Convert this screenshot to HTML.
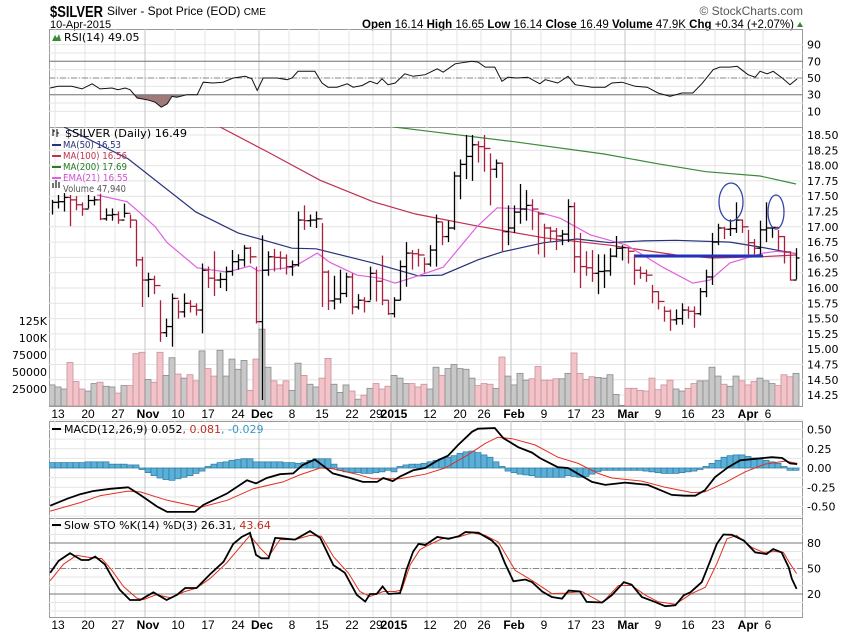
<!DOCTYPE html>
<html><head><meta charset="utf-8"><style>
body{margin:0;background:#fff;width:850px;height:633px;overflow:hidden}
svg{display:block;font-family:"DejaVu Sans","Liberation Sans",sans-serif}
</style></head><body>
<svg id="c" width="850" height="633" viewBox="0 0 850 633" xmlns="http://www.w3.org/2000/svg">
<text x="50" y="17" font-family="Liberation Sans" font-weight="bold" font-size="16" textLength="53" lengthAdjust="spacingAndGlyphs">$SILVER</text>
<text x="107" y="15" font-family="Liberation Sans" font-size="12">Silver - Spot Price (EOD) <tspan font-size="10">CME</tspan></text>
<text x="50" y="28" font-family="Liberation Sans" font-size="11">10-Apr-2015</text>
<text x="803" y="15" text-anchor="end" font-family="Liberation Sans" font-size="12" fill="#555">© StockCharts.com</text>
<text x="362" y="28" font-family="Liberation Sans" font-size="12" textLength="432" lengthAdjust="spacingAndGlyphs"><tspan font-weight="bold">Open</tspan> 16.14 <tspan font-weight="bold">High</tspan> 16.65 <tspan font-weight="bold">Low</tspan> 16.14 <tspan font-weight="bold">Close</tspan> 16.49 <tspan font-weight="bold">Volume</tspan> 47.9K <tspan font-weight="bold">Chg</tspan> +0.34 (+2.07%)</text>
<polygon points="797,27 803,27 800,22" fill="#2a8a2a"/>
<g id="g"></g>
</svg>
<script>
// ---------- data ----------
const dateLabels=["13","20","27","Nov","10","17","24","Dec","8","15","22","29","2015","12","20","26","Feb","9","17","23","Mar","9","16","23","Apr","6"];
const dateIdx=[1,6,11,16,21,26,31,35,40,45,50,54,57,63,68,72,77,82,87,91,96,101,106,111,116,119];
const closes=[17.40,17.41,17.48,17.44,17.36,17.29,17.43,17.44,17.13,17.19,17.20,17.11,17.22,17.11,16.46,16.13,16.14,16.04,15.27,15.37,15.83,15.61,15.75,15.70,15.64,16.29,16.16,16.13,16.14,16.27,16.43,16.46,16.65,16.51,15.45,16.29,16.51,16.50,16.49,16.35,16.38,17.11,17.10,17.11,17.13,16.26,15.79,15.82,15.91,16.18,15.69,15.80,15.78,16.24,16.11,15.80,15.58,15.80,16.35,16.57,16.56,16.54,
16.39,16.62,17.08,16.84,16.98,17.83,18.02,18.15,18.34,18.31,18.28,17.94,18.04,16.92,16.98,17.24,17.29,17.35,17.29,17.21,16.98,16.93,16.85,16.88,17.33,16.51,16.35,16.33,16.24,16.27,16.28,16.52,16.65,16.66,16.60,16.29,16.24,16.21,15.94,15.78,15.62,15.48,15.50,15.64,15.62,15.58,15.94,16.18,16.75,16.98,16.96,16.97,17.11,17.00,16.74,16.65,16.95,16.98,16.99,16.84,16.59,16.13,16.49];
const highs=[17.44,17.52,17.55,17.52,17.50,17.40,17.52,17.50,17.54,17.30,17.30,17.25,17.38,17.20,17.11,16.51,16.25,16.20,15.80,15.50,15.91,15.80,15.91,15.80,15.75,16.40,16.35,16.60,16.25,16.35,16.62,16.55,16.70,16.67,16.35,16.86,16.60,16.64,16.60,16.55,16.45,17.25,17.35,17.20,17.25,17.06,16.29,16.20,16.30,16.25,16.24,15.90,15.85,16.35,16.30,16.53,15.80,15.85,16.45,16.75,16.62,16.64,
16.50,16.70,17.20,17.08,17.10,17.90,18.10,18.50,18.50,18.40,18.50,18.20,18.10,18.05,17.35,17.35,17.70,17.60,17.45,17.25,17.05,17.00,16.98,16.95,17.45,17.40,16.90,16.60,16.62,16.55,16.55,16.65,16.85,16.70,16.65,16.55,16.35,16.30,16.05,15.95,15.70,15.65,15.65,15.75,15.70,15.70,16.00,16.30,16.90,17.05,17.00,17.12,17.40,17.12,16.95,16.80,17.10,17.40,17.00,16.95,16.85,16.60,16.65];
const lows=[17.20,17.30,17.25,17.01,17.27,17.18,17.30,17.35,17.11,17.10,17.10,17.05,17.15,16.98,16.35,15.69,15.85,15.90,15.12,15.20,15.04,15.50,15.52,15.60,15.55,15.26,16.00,15.87,16.00,15.95,16.20,16.30,16.35,16.40,15.42,14.17,16.20,16.27,16.30,16.22,16.20,16.35,16.95,17.00,16.98,15.69,15.64,15.65,15.75,15.85,15.57,15.65,15.60,15.80,15.78,15.72,15.56,15.52,15.80,16.02,16.30,16.35,
16.25,16.35,16.35,16.70,16.75,16.95,17.45,17.78,17.75,18.05,17.90,17.35,17.80,16.60,16.70,16.90,17.05,17.10,16.95,16.55,16.50,16.75,16.62,16.70,16.75,16.25,16.00,16.20,16.10,15.90,16.00,16.20,16.50,16.45,16.40,16.05,16.15,16.10,15.75,15.65,15.45,15.30,15.40,15.40,15.50,15.35,15.55,15.85,16.05,16.70,16.80,16.85,16.90,16.90,16.55,16.55,16.50,16.75,16.82,16.60,16.40,16.12,16.14];
const volumes=[31,28,25,64,36,25,22,33,35,29,28,19,30,30,77,79,39,35,79,45,71,47,41,46,37,81,55,44,82,44,69,54,67,23,69,113,57,37,31,37,23,63,45,32,28,41,70,32,20,31,22,10,16,26,33,25,29,45,41,33,
33,28,32,25,57,45,55,61,55,54,41,30,33,32,26,72,44,31,48,38,40,58,38,38,40,40,48,78,48,39,43,42,41,46,17,1,26,26,23,22,41,24,31,38,25,22,26,33,37,37,57,44,32,29,44,37,31,36,41,37,33,30,46,43,48];
const ma50Idx=[2,12.7,24,31,40,44,53.5,61,65,71,75,82,87.5,93,98.5,104,113,118,124];
const ma50=[18.63,18.11,17.24,16.90,16.65,16.64,16.41,16.20,16.21,16.46,16.59,16.74,16.80,16.74,16.77,16.78,16.75,16.67,16.56];
const ma100Idx=[28,36,44.7,53.5,60.5,71,82,93,104,110,118,124];
const ma100=[18.63,18.22,17.76,17.41,17.21,17.01,16.82,16.70,16.54,16.49,16.51,16.54];
const ma200Idx=[57,62,77,92,101,109,118,124];
const ma200=[18.63,18.57,18.39,18.19,18.03,17.90,17.83,17.70];
const emaIdx=[7.5,12.5,14.2,17.2,19.2,24.2,29.2,33,34.3,40.2,44.2,46.3,50.8,54.7,57.2,61,65.2,70.8,74.2,79.2,84.7,89.7,95.8,101.8,106.8,109.7,113,118.5,120.8,124.2];
const ema21=[17.52,17.41,17.27,17.0,16.74,16.33,16.26,16.36,16.28,16.34,16.57,16.42,16.21,16.16,16.08,16.20,16.34,17.0,17.31,17.29,17.14,16.87,16.70,16.34,16.08,16.13,16.41,16.57,16.60,16.56];
const rsiIdx=[-0.3,1,3.3,5,6.7,8,10,11,12.2,13,14.2,15.8,17.2,18.2,19.2,20,20.8,22.5,24.2,25.2,26.8,28.5,30.2,32.2,33.3,34.2,35.2,37.5,39.2,40,41,43.8,45,46,47.5,49.2,50.2,51.7,53,54.2,55,56,57.2,58.8,60.2,62.2,64.2,65.2,67.2,70,71,72.2,73.8,75,76,77.5,79.3,81.3,82.2,84.3,86,87.2,90,92.2,93.3,95,97.2,99.2,101,103,105,106.8,108.3,110.2,111.3,113,114.2,116,117.2,118,119.2,120.2,121.7,123,124.2];
const rsi=[38,40,40,37,43,37,38,36,38,36,26,24,21,15,19,28,27,30,30,45,44,45,50,52,49,35,50,50,48,50,58,58,44,39,39,43,39,41,46,43,49,42,44,55,52,54,61,57,67,70,69,63,63,46,51,50,51,43,48,44,52,42,39,39,44,45,40,39,32,28,32,32,43,60,63,63,64,54,51,58,55,58,50,42,49];
const macdIdx=[-0.3,2.5,4.7,6.8,9.7,12.7,14.7,17.5,19.2,23.8,25.2,29.2,32.5,34,35.8,38,40.2,41.8,43.8,45.5,46.8,49.7,51.8,54.2,55.2,56.8,58,60.2,62.2,64.3,66,67.7,70,71,73.8,75.2,77.7,80,81.3,84.3,86,90,92.2,95.5,99.3,103.3,105.5,107.2,108.8,110.5,112.7,114.7,117.2,120,121.7,123,124.2];
const macd=[-0.49,-0.40,-0.34,-0.30,-0.27,-0.25,-0.35,-0.50,-0.57,-0.57,-0.48,-0.33,-0.16,-0.20,-0.13,-0.08,-0.07,0.04,0.11,0.01,-0.07,-0.13,-0.18,-0.18,-0.13,-0.17,-0.11,-0.03,0.0,0.10,0.16,0.30,0.47,0.51,0.52,0.39,0.27,0.20,0.13,0.01,0.0,-0.18,-0.22,-0.19,-0.22,-0.35,-0.36,-0.36,-0.29,-0.12,0.01,0.10,0.12,0.14,0.13,0.06,0.05];
const sigIdx=[-0.3,4.7,8,12.7,14.7,19.2,24.7,29.2,33.5,38.5,41.3,44.7,46.8,50.8,53.5,58,62.2,65.5,69.3,72.2,74.3,76.7,80.5,84.3,87.7,91,93.3,98.3,102.2,106.7,108.8,112.2,115.5,118.8,122.2,124.2];
const signal=[-0.56,-0.45,-0.36,-0.30,-0.31,-0.42,-0.51,-0.42,-0.27,-0.18,-0.09,0.0,-0.01,-0.08,-0.14,-0.14,-0.08,0.0,0.17,0.32,0.40,0.38,0.30,0.14,0.06,-0.07,-0.13,-0.17,-0.25,-0.32,-0.31,-0.19,-0.05,0.05,0.09,0.06];
const hist=[0.07,0.07,0.07,0.07,0.07,0.07,0.08,0.08,0.08,0.08,0.05,0.05,0.05,0.04,0.04,-0.02,-0.06,-0.10,-0.13,-0.15,-0.16,-0.14,-0.12,-0.10,-0.07,-0.04,0.02,0.05,0.07,0.08,0.10,0.11,0.12,0.12,0.08,0.08,0.08,0.08,0.08,0.07,0.07,0.06,0.07,0.10,0.12,0.12,0.12,0.05,-0.03,-0.05,-0.06,-0.06,-0.07,-0.07,-0.06,-0.05,-0.03,-0.05,0.02,0.04,0.05,0.05,0.06,0.08,0.10,0.12,0.14,0.16,0.19,0.21,0.22,0.20,0.17,0.14,0.08,0.02,-0.04,-0.06,-0.08,-0.09,-0.10,-0.12,-0.12,-0.12,-0.12,-0.12,-0.10,-0.11,-0.12,-0.11,-0.08,-0.05,-0.03,-0.03,-0.03,-0.03,-0.03,-0.03,-0.03,-0.04,-0.05,-0.06,-0.07,-0.07,-0.07,-0.06,-0.05,-0.04,-0.02,0.02,0.06,0.10,0.14,0.16,0.17,0.17,0.15,0.13,0.12,0.10,0.08,0.06,0.02,-0.03,-0.03];
const kIdx=[-0.3,1.1,3,4.9,6.1,7.2,8.8,9.9,11.3,13,14.7,16.9,19.1,20.8,22.2,24.1,26.3,28.6,30.2,31.6,33,34,34.9,36.1,37.2,39.1,40.5,43,44.7,46.9,48.8,50.8,52.2,53,54.1,55.1,56.1,58,59.1,60.2,61.1,62.2,64.2,66.1,67.8,68.9,71.1,73.3,74.4,75.5,76.9,78.9,80,81.7,83.3,85,86.1,88,89.1,91.7,93.3,95.3,96.6,98.3,100.5,102.2,103.9,105.3,106.4,108.3,109.7,110.8,111.9,113.3,115.3,117.2,119.1,120.2,121.6,122.8,123.3,124.1];
const stoK=[45,59,68,60,60,64,55,41,25,13,13,22,13,19,27,27,43,58,79,87,92,66,62,62,86,85,84,94,86,54,45,19,11,20,20,29,20,21,49,70,79,77.6,87,85,88,93,92,83,75,56,35,37,34,23,16.5,14.6,24,23,10.7,10,18.6,34,31,16.5,10.7,5.6,6.7,18.6,22,34,59,79,90,89.7,83,69,67,73,69,51,38,26];
const dIdx=[-0.3,1.9,4.1,6.3,8.3,9.9,11.9,14.1,15.2,17.4,19.9,21.9,24.1,26.3,29.1,31.3,33,34.7,36.1,38,40.5,43,44.9,46.9,49.4,51.3,53,55.2,57.2,58.3,59.7,61.3,62.2,65,67.8,70,72.2,74.4,77.2,80,83.3,85.5,88.3,91.7,94.4,96.6,98.9,101.1,103.9,106.6,108.9,110.8,112.5,114.1,116.6,118.6,120.5,121.9,123,124.1];
const stoD=[35.7,55,65.5,63,61.6,48.6,29,15.3,13.3,19.2,15.3,22.4,27,38,56.5,75,89,74,64,84,84,89,88,64,44.7,23,17,23,23,25,54.5,72,75.6,85,87,92,89,81,47.8,36,20.5,21,23,9.6,30,30,18.6,10.7,8,20.5,28,55.6,85,89,75,69,70,69,55.6,44];
const priceTicks=[18.5,18.25,18,17.75,17.5,17.25,17,16.75,16.5,16.25,16,15.75,15.5,15.25,15,14.75,14.5,14.25];
const volTicks=[25,50,75,100,125];
const volTickLabels=["25000","50000","75000","100K","125K"];
const rsiTicks=[90,70,50,30,10];
const macdTicks=[0.5,0.25,0,-0.25,-0.5];
const stoTicks=[80,50,20];

// ---------- scales ----------
const L=49,R=803;
const xOf=i=>52+6*i;
const pY=p=>135+(18.5-p)*61.2;
const rY=v=>78-(v-50)*0.835;
const vY=v=>406-v*0.68;
const mY=v=>468-v*77;
const sY=v=>594-(v-20)*0.85;
const NS="http://www.w3.org/2000/svg";
const G=document.getElementById('g');
function mk(tag,attrs,parent){const e=document.createElementNS(NS,tag);for(const k in attrs)e.setAttribute(k,attrs[k]);(parent||G).appendChild(e);return e;}
function pts(idx,vals,fy){return idx.map((d,j)=>xOf(d).toFixed(1)+','+fy(vals[j]).toFixed(1)).join(' ');}

const defs=mk('defs',{});
[['cr',29,98],['cm',127,279],['cmd',421,97],['cs',518,99]].forEach(a=>{const cp=mk('clipPath',{id:a[0]},defs);mk('rect',{x:L,y:a[1],width:R-L,height:a[2]},cp);});

const panels=[[29,127],[127,406],[421,518],[518,617]];
const frames=mk('g',{});


const hg=mk('g',{stroke:'#e4e4e4','stroke-width':1});
for(let v=10;v<=90;v+=10){mk('line',{x1:L,x2:R,y1:rY(v),y2:rY(v)},hg);}
priceTicks.forEach(p=>mk('line',{x1:L,x2:R,y1:pY(p),y2:pY(p)},hg));
for(let v=-0.625;v<=0.625;v+=0.125){mk('line',{x1:L,x2:R,y1:mY(v),y2:mY(v)},hg);}
for(let v=0;v<=100;v+=10){mk('line',{x1:L,x2:R,y1:sY(v),y2:sY(v)},hg);}
const vg=mk('g',{});
dateIdx.forEach((d,j)=>{
  const bold=['Nov','Dec','2015','Feb','Mar','Apr'].includes(dateLabels[j]);
  const x=xOf(d)-3;
  panels.forEach(pn=>mk('line',{x1:x,x2:x,y1:pn[0],y2:pn[1],stroke:bold?'#c4c4c4':'#e4e4e4','stroke-width':1},vg));
});
panels.forEach(pn=>mk('rect',{x:L+0.5,y:pn[0]+0.5,width:R-L-1,height:pn[1]-pn[0],fill:'none',stroke:'#9a9a9a'},frames));

// ---------- RSI ----------
const rsiG=mk('g',{'clip-path':'url(#cr)'});


const below=mk('clipPath',{id:'below30'},defs);mk('rect',{x:L,y:rY(30),width:R-L,height:40},below);
const rp=pts(rsiIdx,rsi,rY);
const rsiFill=mk('polygon',{points:xOf(rsiIdx[0])+','+rY(30)+' '+rp+' '+xOf(rsiIdx[rsiIdx.length-1])+','+rY(30),fill:'#a07a7a',stroke:'none','clip-path':'url(#below30)'},rsiG);


[70,30].forEach(v=>mk('line',{x1:L,x2:R,y1:rY(v),y2:rY(v),stroke:'#777'},rsiG));
mk('line',{x1:L,x2:R,y1:rY(50),y2:rY(50),stroke:'#888','stroke-dasharray':'6,2,1,2'},rsiG);
const rsiLine=mk('polyline',{points:rp,fill:'none',stroke:'#111','stroke-width':1},rsiG);


rsiTicks.forEach(v=>{const t=mk('text',{x:807,y:rY(v)+4,'font-size':11});t.textContent=v;});
const rsiLeg=mk('text',{x:64,y:41,'font-size':11});rsiLeg.textContent='RSI(14) 49.05';


mk('polygon',{points:'52,41 55,35 57,38 59,34 61,41',fill:'#3a8a3a'});

// ---------- main ----------
const mG=mk('g',{'clip-path':'url(#cm)'});


volumes.forEach((v,i)=>{
  const up=i===0||closes[i]>=closes[i-1];
  const b=mk('rect',{x:xOf(i)-3,y:vY(v),width:6,height:406-vY(v),fill:up?'#c8c8c8':'#f2c4ca',stroke:up?'#8a8a8a':'#c8909a','stroke-width':0.8},mG);
  
  
});
[[ma200Idx,ma200,'#3a8a3a','ma200-line'],[ma100Idx,ma100,'#c03050','ma100-line'],[ma50Idx,ma50,'#27327a','ma50-line'],[emaIdx,ema21,'#e060e0','ema21-line']].forEach(s=>{
  const l=mk('polyline',{points:pts(s[0],s[1],pY),fill:'none',stroke:s[2],'stroke-width':1.2},mG);
  
  
});
closes.forEach((c,i)=>{
  const up=i===0||c>=closes[i-1];
  const col=up?'#000':'#a8203c';
  const x=xOf(i)+0.5;
  const g=mk('g',{stroke:col,'stroke-width':1.3},mG);
  
  
  mk('line',{x1:x,x2:x,y1:pY(highs[i]),y2:pY(lows[i])},g);
  mk('line',{x1:x,x2:x+3,y1:pY(c),y2:pY(c)},g);
  if(i>0)mk('line',{x1:x-3,x2:x,y1:pY(closes[i-1]),y2:pY(closes[i-1])},g);
});
const sup=mk('line',{x1:635,x2:763,y1:256,y2:256,stroke:'#2233bb','stroke-width':3},mG);


[[731,202,12,19],[776,212,8,17]].forEach(e=>{const el=mk('ellipse',{cx:e[0],cy:e[1],rx:e[2],ry:e[3],fill:'none',stroke:'#3344aa','stroke-width':1.3},mG);

});
priceTicks.forEach(p=>{const t=mk('text',{x:807,y:pY(p)+4,'font-size':11});t.textContent=p.toFixed(2);});
volTicks.forEach((v,j)=>{const t=mk('text',{x:47,y:vY(v)+4,'font-size':11,'text-anchor':'end'});t.textContent=volTickLabels[j];});
const leg=[['$SILVER (Daily) 16.49','#000',null,122],['MA(50) 16.53','#27327a','#27327a',58],['MA(100) 16.56','#c03050','#c03050',64],['MA(200) 17.69','#2a7a2a','#2a7a2a',64],['EMA(21) 16.55','#d050d0','#e060e0',65],['Volume 47,940','#555',null,63]];
leg.forEach((l,j)=>{
  const y=137+j*11;
  const t=mk('text',{x:j===0?65:63,y:y,'font-size':j===0?11:10,fill:l[1],textLength:l[3],lengthAdjust:'spacingAndGlyphs'});t.textContent=l[0];
  
  
  if(l[2])mk('rect',{x:52,y:y-4,width:9,height:2,fill:l[2]});
});
mk('path',{d:'M53 136 v-7 M53 131 h2 M57 137 v-8 M57 133 h2',stroke:'#000',fill:'none'});
mk('path',{d:'M52 188 h2 v-5 h-2z M55 188 h2 v-8 h-2z M58 188 h2 v-6 h-2z',fill:'#777'});

function dateRow(y){dateIdx.forEach((d,j)=>{
  const bold=['Nov','Dec','2015','Feb','Mar','Apr'].includes(dateLabels[j]);
  const t=mk('text',{x:xOf(d)+ (dateLabels[j]==='6'?2:0),y:y,'font-size':12,'text-anchor':'middle','font-weight':bold?'bold':'normal','font-family':'Liberation Sans'});
  t.textContent=dateLabels[j];
  
  
});}
dateRow(418);dateRow(629);

// ---------- MACD ----------
const mdG=mk('g',{'clip-path':'url(#cmd)'});


hist.forEach((h,i)=>{
  const y0=mY(0),y1=mY(h);
  const b=mk('rect',{x:xOf(i)-3,y:Math.min(y0,y1),width:6,height:Math.abs(y1-y0),fill:'#5cb0d8',stroke:'#2a7aa0','stroke-width':0.7},mdG);
  
  
});
const sl=mk('polyline',{points:pts(sigIdx,signal,mY),fill:'none',stroke:'#e03020','stroke-width':1},mdG);


const ml=mk('polyline',{points:pts(macdIdx,macd,mY),fill:'none',stroke:'#000','stroke-width':1.8},mdG);


macdTicks.forEach(v=>{const t=mk('text',{x:807,y:mY(v)+4,'font-size':11});t.textContent=v.toFixed(2);});
const mlg=mk('text',{x:64,y:433,'font-size':11});
mlg.innerHTML='MACD(12,26,9) 0.052<tspan fill="#c03020">, 0.081</tspan><tspan fill="#3a9ac8">, -0.029</tspan>';


mk('rect',{x:52,y:428,width:9,height:2,fill:'#000'});

// ---------- STO ----------
const sG=mk('g',{'clip-path':'url(#cs)'});


[80,20].forEach(v=>mk('line',{x1:L,x2:R,y1:sY(v),y2:sY(v),stroke:'#777'},sG));
mk('line',{x1:L,x2:R,y1:sY(50),y2:sY(50),stroke:'#888','stroke-dasharray':'6,2,1,2'},sG);
const dl=mk('polyline',{points:pts(dIdx,stoD,sY),fill:'none',stroke:'#e03020','stroke-width':1},sG);


const kl=mk('polyline',{points:pts(kIdx,stoK,sY),fill:'none',stroke:'#000','stroke-width':1.8},sG);


stoTicks.forEach(v=>{const t=mk('text',{x:807,y:sY(v)+4,'font-size':11});t.textContent=v;});
const slg=mk('text',{x:64,y:529,'font-size':11});
slg.innerHTML='Slow STO %K(14) %D(3) 26.31, <tspan fill="#c03020">43.64</tspan>';


mk('rect',{x:52,y:524,width:9,height:2,fill:'#000'});
</script>
</body></html>
